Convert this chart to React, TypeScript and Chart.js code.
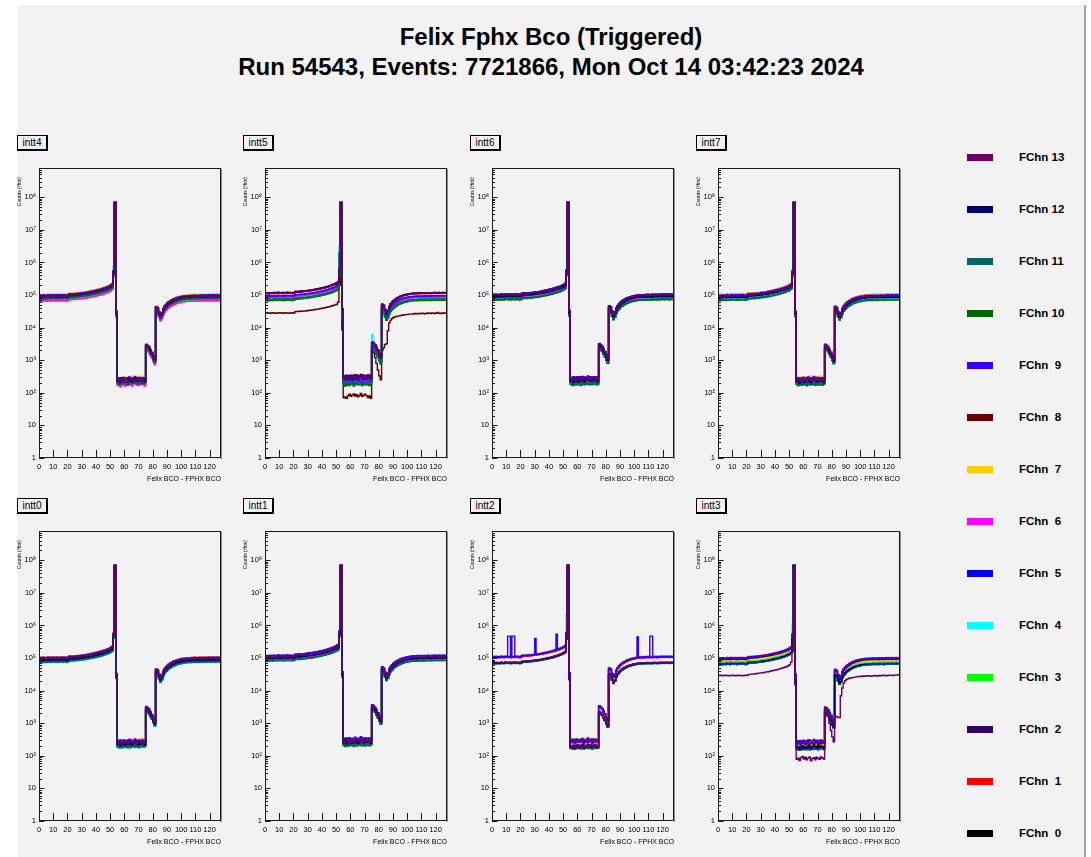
import React, { useEffect, useRef } from "react";
import { Chart, registerables } from "chart.js";

Chart.register(...registerables);

const FONT = "'Liberation Sans', Arial, Helvetica, sans-serif";
Chart.defaults.font.family = FONT;
Chart.defaults.color = "#000";

// ---------- text ----------
const TITLE_LINES = [
  "Felix Fphx Bco (Triggered)",
  "Run 54543, Events: 7721866, Mon Oct 14 03:42:23 2024",
];
const PANEL_NAMES = ["intt4", "intt5", "intt6", "intt7", "intt0", "intt1", "intt2", "intt3"];
const X_TITLE = "Felix BCO - FPHX BCO";
const Y_TITLE = "Counts (Hits)";

// ---------- channels ----------
const CHANNELS = [0, 1, 2, 3, 4, 5, 6, 7, 8, 9, 10, 11, 12, 13];
const CHANNEL_LABELS = [
  "FChn  0", "FChn  1", "FChn  2", "FChn  3", "FChn  4", "FChn  5", "FChn  6",
  "FChn  7", "FChn  8", "FChn  9", "FChn 10", "FChn 11", "FChn 12", "FChn 13",
];
const CHANNEL_COLORS = [
  "#000000", "#ff0000", "#330066", "#00ff00", "#00ffff", "#0000ff", "#ff00ff",
  "#ffcc00", "#660000", "#3300ff", "#006600", "#006666", "#000066", "#660066",
];

// ---------- axes ----------
const X_MIN = 0;
const X_MAX = 128;
const X_TICKS = [0, 10, 20, 30, 40, 50, 60, 70, 80, 90, 100, 110, 120];
const Y_MIN = 1;
const Y_MAX = 7.9e8;
const Y_DECADE_VALUES = [1, 10, 1e2, 1e3, 1e4, 1e5, 1e6, 1e7, 1e8];
const Y_DECADE_LABELS = ["1", "10", "10\u00b2", "10\u00b3", "10\u2074", "10\u2075", "10\u2076", "10\u2077", "10\u2078"];
const Y_MINOR_STEPS = [2, 3, 4, 5, 6, 7, 8, 9];

// ---------- data (bin contents, in thousands of hits, bins 0..127) ----------
const BASE_PROFILE_K = [
  92, 94, 91, 95, 93, 92, 96, 94, 93, 97,
  95, 94, 96, 93, 95, 97, 94, 96, 95, 93,
  96, 103, 102, 104, 103, 106, 105, 107, 108, 110,
  111, 113, 114, 116, 118, 120, 123, 125, 128, 131,
  134, 137, 141, 145, 149, 154, 159, 165, 172, 180,
  190, 205, 520, 70000, 30,
  0.24, 0.27, 0.22, 0.25, 0.28, 0.23, 0.26, 0.24, 0.29, 0.25,
  0.23, 0.27, 0.30, 0.26, 0.24, 0.28, 0.25, 0.27, 0.26, 0.23,
  2.9, 2.7, 2.4, 2.0, 1.65, 1.3, 1.05,
  42, 39, 29, 23, 27, 36, 43, 49,
  54, 59, 63, 67, 71, 74, 77, 80, 82, 84,
  86, 88, 89, 90, 91, 92, 91, 93, 92, 94,
  93, 92, 94, 93, 95, 94, 93, 95, 94, 96,
  95, 94, 96, 95, 94, 96, 95, 95,
];
const LOW_START_BIN = 55;
const LOW_PATTERN_A_K = [0.24, 0.27, 0.22, 0.25, 0.28, 0.23, 0.26, 0.24, 0.29, 0.25, 0.23, 0.27, 0.30, 0.26, 0.24, 0.28, 0.25, 0.27, 0.26, 0.23];
const LOW_PATTERN_B_K = [0.26, 0.22, 0.27, 0.24, 0.23, 0.28, 0.25, 0.22, 0.26, 0.29, 0.25, 0.24, 0.27, 0.23, 0.28, 0.26, 0.24, 0.29, 0.23, 0.25];
const LOW_PATTERN_C_K = [0.23, 0.26, 0.28, 0.22, 0.25, 0.27, 0.23, 0.28, 0.24, 0.22, 0.27, 0.25, 0.23, 0.28, 0.26, 0.22, 0.27, 0.24, 0.28, 0.26];

const SPIKE_BIN = 53;
const SPIKE_PEAKS = [6.6e7, 6.8e7, 6.9e7, 6.7e7, 6.5e7, 7.3e7, 6.4e7, 7.2e7, 6.9e7, 7.1e7, 6.6e7, 6.7e7, 6.8e7, 7.0e7];

// relative level of each channel (FChn 0..13) per FELIX server
const LEVELS_INTT4 = [0.8, 1.08, 0.98, 0.76, 0.9, 1.02, 0.7, 1.12, 1.04, 1.05, 0.82, 0.86, 0.94, 0.97];
const LEVELS_INTT5 = [0.88, 1.18, 1.25, 0.78, 0.85, 0.98, 0.92, 0.76, 0.3, 1.0, 0.73, 0.8, 1.22, 1.24];
const LEVELS_INTT6 = [0.78, 1.05, 1.1, 0.8, 0.85, 1.12, 0.9, 1.0, 1.02, 1.1, 0.76, 0.8, 0.95, 1.08];
const LEVELS_INTT7 = [0.8, 1.1, 1.02, 0.78, 0.84, 1.04, 0.92, 1.08, 1.0, 1.06, 0.74, 0.78, 0.9, 1.0];
const LEVELS_INTT0 = [0.85, 1.12, 1.05, 0.8, 0.78, 1.08, 0.95, 1.1, 1.02, 1.1, 0.82, 0.8, 0.92, 1.04];
const LEVELS_INTT1 = [0.95, 1.2, 1.22, 0.9, 0.92, 1.25, 1.0, 1.15, 1.1, 1.28, 0.88, 0.9, 1.05, 1.15];
const LEVELS_INTT2 = [0.74, 1.15, 0.76, 0.75, 0.73, 1.12, 1.1, 1.22, 1.14, 1.18, 0.74, 0.72, 0.76, 0.78];
const LEVELS_INTT3 = [0.68, 1.08, 1.0, 0.8, 0.75, 1.02, 0.95, 0.92, 0.97, 1.05, 0.7, 0.68, 0.72, 0.3];

// channels with their own shape (thousands of hits, bins 0..127)
const INTT5_FCHN8_K = [
  28, 28.5, 28, 27.5, 28, 28.5, 28, 27.5, 28, 28, 28.5, 28, 27.5, 28, 28.5, 28, 28, 27.5, 28, 28.5, 28,
  31, 31.5, 31, 32, 31.5, 32, 32.5, 32, 33, 33.5, 34, 34, 35, 35.5, 36, 36.5, 37, 38, 38.5, 39.5,
  40, 41, 42, 43, 44, 45.5, 47, 48.5, 50, 52,
  60, 200, 60000, 8.5,
  0.07, 0.075, 0.068, 0.082, 0.09, 0.078, 0.085, 0.092, 0.08, 0.088,
  0.075, 0.083, 0.095, 0.078, 0.085, 0.09, 0.082, 0.072, 0.08, 0.068,
  2.2, 1.7, 1.2, 0.8, 0.5, 0.33, 0.25,
  2.0, 2.4, 3.0, 3.2, 8, 14, 17, 19, 20.5,
  21.5, 22, 22.5, 23, 23.5, 24, 24.5, 25, 25, 25.5, 26, 26, 26.5, 26, 27, 26.5, 27, 26.5, 27, 27.5,
  27, 26.5, 27, 28, 27.5, 27, 28, 27.5, 27, 28, 29, 27.5, 27, 28, 27.5, 28, 27.5,
];
const INTT3_FCHN13_K = [
  29, 29.5, 29, 28.5, 29, 29.5, 29, 28.5, 29, 29, 29.5, 29, 28.5, 29, 29.5, 29, 29, 28.5, 29, 29.5, 29,
  31, 31.5, 32, 32, 32.5, 33, 33.5, 34, 34.5, 35, 35.5, 36, 37, 37.5, 38, 39, 40, 41, 42, 43,
  44, 45, 46.5, 48, 49.5, 51, 53, 55, 58, 62,
  75, 160, 70000, 15,
  0.078, 0.085, 0.072, 0.088, 0.095, 0.08, 0.09, 0.075, 0.085, 0.092,
  0.07, 0.082, 0.088, 0.076, 0.09, 0.084, 0.078, 0.092, 0.086, 0.08,
  2.8, 2.3, 1.6, 1.0, 0.6, 0.38, 0.27,
  1.6, 1.6, 1.5, 1.5, 7, 12, 17, 20, 22,
  23, 24, 24.5, 25, 25.5, 26, 26.5, 27, 27, 27.5, 27, 28, 27.5, 28, 28.5, 28, 27.5, 28, 28.5, 29,
  28.5, 28, 29, 28.5, 29, 29.5, 29, 28.5, 29, 29.5, 30, 29.5, 29, 30, 30.5, 30, 31,
];

// single-bin readings: [server, channel, bin, hits]
const BIN_OVERRIDES: [string, number, number, number][] = [
  ["intt4", 4, 52, 7.5e5],
  ["intt5", 4, 52, 3.0e6],
  ["intt5", 11, 52, 2.0e6],
  ["intt5", 4, 75, 6.2e3],
  ["intt2", 7, 52, 2.4e6],
  ["intt3", 7, 52, 1.1e6],
  ["intt2", 9, 11, 4.7e5],
  ["intt2", 9, 12, 4.7e5],
  ["intt2", 9, 14, 4.7e5],
  ["intt2", 9, 15, 4.7e5],
  ["intt2", 9, 30, 4.0e5],
  ["intt2", 9, 45, 5.4e5],
  ["intt2", 9, 102, 4.4e5],
  ["intt2", 9, 111, 4.7e5],
  ["intt2", 9, 112, 4.7e5],
];

const PANEL_LEVELS: Record<string, number[]> = {
  intt4: LEVELS_INTT4, intt5: LEVELS_INTT5, intt6: LEVELS_INTT6, intt7: LEVELS_INTT7,
  intt0: LEVELS_INTT0, intt1: LEVELS_INTT1, intt2: LEVELS_INTT2, intt3: LEVELS_INTT3,
};
const SPECIAL_SERIES: Record<string, Record<number, number[]>> = {
  intt5: { 8: INTT5_FCHN8_K },
  intt3: { 13: INTT3_FCHN13_K },
};
const LOW_PATTERNS = [LOW_PATTERN_A_K, LOW_PATTERN_B_K, LOW_PATTERN_C_K];

function channelValues(panel: string, c: number): number[] {
  const special = SPECIAL_SERIES[panel]?.[c];
  let vals: number[];
  if (special) {
    vals = special.map((v) => v * 1000);
  } else {
    const level = PANEL_LEVELS[panel][c];
    const low = LOW_PATTERNS[c % 3];
    vals = BASE_PROFILE_K.map((v, i) => {
      const k = i >= LOW_START_BIN && i < LOW_START_BIN + low.length ? low[i - LOW_START_BIN] : v;
      return k * 1000 * level;
    });
    vals[SPIKE_BIN] = SPIKE_PEAKS[c];
  }
  for (const [p, ch, bin, value] of BIN_OVERRIDES) {
    if (p === panel && ch === c) vals[bin] = value;
  }
  return vals;
}

// ---------- layout ----------
const FRAME_LEFTS = [39, 265, 492, 718];
const FRAME_TOPS = [168, 531];
const FRAME_W = 182;
const FRAME_H = 290;
const LEFT_SPACE = 30;
const TOP_SPACE = 12;
const RIGHT_SPACE = 6;
const BOTTOM_SPACE = 28;
const CANVAS_W = LEFT_SPACE + FRAME_W + RIGHT_SPACE;
const CANVAS_H = TOP_SPACE + FRAME_H + BOTTOM_SPACE;

const framePlugin = {
  id: "rootFrame",
  afterDraw(chart: any) {
    const { ctx, chartArea: a } = chart;
    const xs = chart.scales.x;
    const ys = chart.scales.y;
    ctx.save();
    ctx.strokeStyle = "#1a1a1a";
    ctx.lineWidth = 1;
    ctx.beginPath();
    for (const v of X_TICKS) {
      const px = Math.round(xs.getPixelForValue(v)) + 0.5;
      ctx.moveTo(px, a.bottom);
      ctx.lineTo(px, a.bottom - 8);
    }
    for (const t of ys.ticks) {
      const py = Math.round(ys.getPixelForValue(t.value)) + 0.5;
      const major = Y_DECADE_VALUES.includes(t.value);
      ctx.moveTo(a.left, py);
      ctx.lineTo(a.left + (major ? 5.5 : 3), py);
    }
    ctx.stroke();
    ctx.strokeRect(a.left + 0.5, a.top + 0.5, a.width - 1, a.height - 1);
    ctx.strokeStyle = "#8c8c8c";
    ctx.beginPath();
    ctx.moveTo(a.right + 0.5, a.top + 1);
    ctx.lineTo(a.right + 0.5, a.bottom + 1);
    ctx.stroke();
    ctx.fillStyle = "#000";
    ctx.font = `5px ${FONT}`;
    ctx.translate(a.left - 19, a.top + 9);
    ctx.rotate(-Math.PI / 2);
    ctx.textAlign = "right";
    ctx.textBaseline = "middle";
    ctx.fillText(Y_TITLE, 0, 0);
    ctx.restore();
  },
};

function yTickValues(): number[] {
  const out: number[] = [];
  for (const d of Y_DECADE_VALUES) {
    out.push(d);
    for (const m of Y_MINOR_STEPS) if (d * m <= Y_MAX) out.push(d * m);
  }
  return out;
}

function Panel({ index }: { index: number }) {
  const ref = useRef<HTMLCanvasElement>(null);
  const name = PANEL_NAMES[index];
  const col = index % 4;
  const row = Math.floor(index / 4);
  const frameLeft = FRAME_LEFTS[col];
  const frameTop = FRAME_TOPS[row];

  useEffect(() => {
    const datasets = CHANNELS.slice()
      .reverse()
      .map((c) => {
        const vals = channelValues(name, c);
        const pts = vals.map((v, i) => ({ x: i, y: v }));
        pts.push({ x: X_MAX, y: vals[vals.length - 1] });
        return {
          label: CHANNEL_LABELS[c],
          data: pts,
          borderColor: CHANNEL_COLORS[c],
          backgroundColor: CHANNEL_COLORS[c],
          borderWidth: 1.4,
          pointRadius: 0,
          stepped: true,
          fill: false,
        };
      });
    const chart = new Chart(ref.current as HTMLCanvasElement, {
      type: "line",
      data: { datasets } as any,
      options: {
        animation: false,
        responsive: false,
        devicePixelRatio: 1,
        events: [],
        parsing: false,
        layout: { padding: { left: 0, top: TOP_SPACE, right: RIGHT_SPACE, bottom: 0 } },
        plugins: { legend: { display: false }, tooltip: { enabled: false }, title: { display: false } },
        scales: {
          x: {
            type: "linear",
            min: X_MIN,
            max: X_MAX,
            grid: { display: false, drawTicks: false, tickLength: 0 },
            border: { display: false },
            afterBuildTicks: (s: any) => {
              s.ticks = X_TICKS.map((v) => ({ value: v }));
            },
            ticks: { autoSkip: false, maxRotation: 0, padding: 4, font: { size: 7.5 }, color: "#000" },
            title: {
              display: true,
              text: X_TITLE,
              align: "end",
              color: "#000",
              font: { size: 7 },
              padding: { top: 0, bottom: 3 },
            },
            afterFit: (s: any) => {
              s.height = BOTTOM_SPACE;
            },
          },
          y: {
            type: "logarithmic",
            min: Y_MIN,
            max: Y_MAX,
            grid: { display: false, drawTicks: false, tickLength: 0 },
            border: { display: false },
            afterBuildTicks: (s: any) => {
              s.ticks = yTickValues().map((v) => ({ value: v }));
            },
            ticks: {
              autoSkip: false,
              padding: 3,
              font: { size: 7.5 },
              color: "#000",
              callback: (v: any) => {
                const k = Y_DECADE_VALUES.indexOf(Number(v));
                return k >= 0 ? Y_DECADE_LABELS[k] : "";
              },
            },
            afterFit: (s: any) => {
              s.width = LEFT_SPACE;
            },
          },
        },
      } as any,
      plugins: [framePlugin],
    });
    return () => chart.destroy();
  }, [name]);

  return (
    <>
      <canvas
        ref={ref}
        width={CANVAS_W}
        height={CANVAS_H}
        style={{
          position: "absolute",
          left: frameLeft - LEFT_SPACE,
          top: frameTop - TOP_SPACE,
          width: CANVAS_W,
          height: CANVAS_H,
        }}
      />
      <div
        style={{
          position: "absolute",
          left: frameLeft - 22,
          top: frameTop - 33,
          width: 31,
          height: 16,
          boxSizing: "border-box",
          border: "1px solid #000",
          borderRightWidth: 2,
          borderBottomWidth: 2,
          fontSize: 10,
          lineHeight: "13px",
          textAlign: "center",
          color: "#000",
        }}
      >
        {name}
      </div>
    </>
  );
}

export default function App() {
  const legendOrder = CHANNELS.slice().reverse();
  return (
    <div
      style={{
        position: "absolute",
        left: 0,
        top: 0,
        width: 1091,
        height: 857,
        background: "#ffffff",
        overflow: "hidden",
        fontFamily: FONT,
      }}
    >
      <div
        style={{
          position: "absolute",
          left: 18,
          top: 5,
          width: 1066,
          height: 852,
          background: "#f2f2f2",
          borderRight: "2px solid #a3a3a3",
        }}
      />
      {TITLE_LINES.map((t, i) => (
        <div
          key={t}
          style={{
            position: "absolute",
            left: 18,
            width: 1066,
            top: [23, 53][i],
            height: 28,
            lineHeight: "28px",
            textAlign: "center",
            fontWeight: "bold",
            fontSize: 24,
            color: "#000",
            whiteSpace: "pre",
          }}
        >
          {t}
        </div>
      ))}
      {PANEL_NAMES.map((n, p) => (
        <Panel key={n} index={p} />
      ))}
      {legendOrder.map((c, i) => {
        const cy = 157 + 52 * i;
        return (
          <React.Fragment key={c}>
            <div
              style={{
                position: "absolute",
                left: 967,
                top: cy - 3.5,
                width: 26,
                height: 7,
                background: CHANNEL_COLORS[c],
              }}
            />
            <div
              style={{
                position: "absolute",
                left: 1019,
                top: cy - 7,
                height: 14,
                lineHeight: "14px",
                fontSize: 11.5,
                fontWeight: "bold",
                color: "#000",
                whiteSpace: "pre",
              }}
            >
              {CHANNEL_LABELS[c]}
            </div>
          </React.Fragment>
        );
      })}
    </div>
  );
}
